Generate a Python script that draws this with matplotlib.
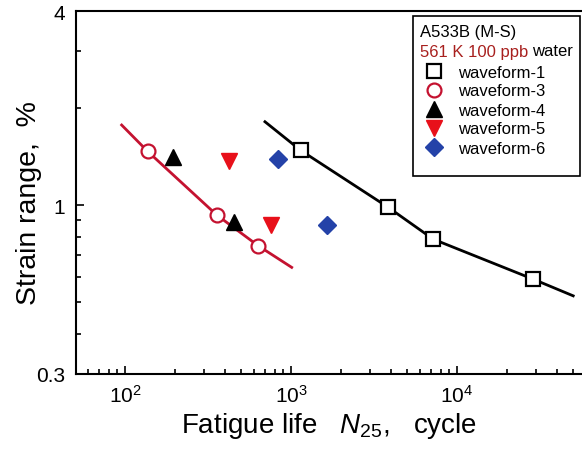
import matplotlib
matplotlib.use("Agg")
import matplotlib.pyplot as plt
from matplotlib.patches import Rectangle
from matplotlib.ticker import LogLocator, FixedLocator, NullFormatter, FixedFormatter

plt.rcParams['font.family'] = ['Liberation Sans', 'DejaVu Sans']
plt.rcParams['mathtext.fontset'] = 'custom'
plt.rcParams['mathtext.rm'] = 'Liberation Sans'
plt.rcParams['mathtext.it'] = 'Liberation Sans:italic'

# ---- data ----
wf1_N = [1143, 3855, 7190, 28800]
wf1_e = [1.48, 0.985, 0.785, 0.59]
wf3_N = [137, 357, 635]
wf3_e = [1.47, 0.933, 0.749]
wf4_N = [195, 455]
wf4_e = [1.41, 0.885]
wf5_N = [424, 759]
wf5_e = [1.37, 0.868]
wf6_N = [832, 1655]
wf6_e = [1.39, 0.87]

# fitted curves
fit1_N = [697, 1143, 3855, 7190, 28800, 50100]
fit1_e = [1.815, 1.48, 0.985, 0.785, 0.59, 0.524]
fit3_N = [95.5, 137, 357, 635, 1010]
fit3_e = [1.773, 1.469, 0.933, 0.749, 0.642]

x_ticks = [1e2, 1e3, 1e4]
x_ticklabels = [r'$10^2$', r'$10^3$', r'$10^4$']
y_ticks = [0.3, 1, 4]
y_ticklabels = ['0.3', '1', '4']

W, H = 582, 452
fig = plt.figure(figsize=(W / 100, H / 100), dpi=100)
ax = fig.add_axes([76 / W, 1 - 375 / H, 1 - 76 / W, (375 - 12) / H])

red_line = '#c41230'
ax.plot(fit3_N, fit3_e, color=red_line, lw=2.0, zorder=2)
ax.plot(fit1_N, fit1_e, color='black', lw=2.0, zorder=2)

ms = 10
h1, = ax.plot(wf1_N, wf1_e, ls='none', marker='s', ms=ms, mfc='white', mec='black', mew=1.6,
              label='waveform-1', zorder=3)
h3, = ax.plot(wf3_N, wf3_e, ls='none', marker='o', ms=ms, mfc='white', mec=red_line, mew=1.6,
              label='waveform-3', zorder=3)
h4, = ax.plot(wf4_N, wf4_e, ls='none', marker='^', ms=11, mfc='black', mec='black', mew=1,
              label='waveform-4', zorder=3)
h5, = ax.plot(wf5_N, wf5_e, ls='none', marker='v', ms=11, mfc='#e8101a', mec='#e8101a', mew=1,
              label='waveform-5', zorder=3)
h6, = ax.plot(wf6_N, wf6_e, ls='none', marker='D', ms=9, mfc='#2442a8', mec='#2442a8', mew=1,
              label='waveform-6', zorder=3)

ax.set_xscale('log')
ax.set_yscale('log')
ax.set_xlim(50.7, 56600)
ax.set_ylim(0.3, 4)

ax.xaxis.set_major_locator(FixedLocator(x_ticks))
ax.xaxis.set_major_formatter(FixedFormatter(x_ticklabels))
ax.xaxis.set_minor_locator(LogLocator(base=10, subs=[2, 3, 4, 5, 6, 7, 8, 9]))
ax.xaxis.set_minor_formatter(NullFormatter())

ax.yaxis.set_major_locator(FixedLocator(y_ticks))
ax.yaxis.set_major_formatter(FixedFormatter(y_ticklabels))
ax.yaxis.set_minor_locator(FixedLocator([0.4, 0.5, 0.6, 0.7, 0.8, 0.9, 2, 3]))
ax.yaxis.set_minor_formatter(NullFormatter())

ax.tick_params(which='both', direction='in', top=False, right=False, width=1.2, labelsize=15)
ax.tick_params(which='major', length=6)
ax.tick_params(which='minor', length=3.5)
ax.tick_params(axis='x', which='major', pad=7)
ax.tick_params(axis='y', which='major', pad=8)
for s in ['left', 'bottom', 'top']:
    ax.spines[s].set_linewidth(1.5)
ax.spines['right'].set_visible(False)

ax.set_xlabel(r'Fatigue life   $N_{25}$,   cycle', fontsize=20, labelpad=3)
ax.set_ylabel('Strain range,  %', fontsize=20.5, labelpad=4)
ax.yaxis.set_label_coords(-0.068, 0.475)

# legend frame drawn as a box in figure pixels (inside the axes so the legend sits on top)
frame = Rectangle((413 / W, 1 - 177 / H), (580 - 413) / W, (177 - 17) / H,
                  transform=fig.transFigure, fill=True, facecolor='white',
                  edgecolor='black', lw=1.2, zorder=4, clip_on=False)
ax.add_patch(frame)

leg = ax.legend(handles=[h1, h3, h4, h5, h6], loc='upper left',
                bbox_to_anchor=(421.5 / W, 1 - 65.5 / H),
                bbox_transform=fig.transFigure,
                fontsize=12, frameon=False, borderpad=0, labelspacing=0.24,
                handletextpad=0.7, handlelength=1.5, borderaxespad=0)
leg.set_zorder(5)

fig.text(420 / W, 1 - 32 / H, 'A533B (M-S)', fontsize=12, va='center', ha='left',
         color='black', zorder=6)
t2 = fig.text(420 / W, 1 - 52 / H, '561 K 100 ppb', fontsize=12, va='center', ha='left',
              color='#a8201e', zorder=6)
fig.canvas.draw()
r = fig.canvas.get_renderer()
b2 = t2.get_window_extent(r)
inv = fig.transFigure.inverted()
xw, _ = inv.transform((b2.x1 + 4, b2.y1))
fig.text(xw, 1 - 52 / H, 'water', fontsize=12, va='center', ha='left', color='black', zorder=6)

fig.savefig('out.png', dpi=100, facecolor='white')
